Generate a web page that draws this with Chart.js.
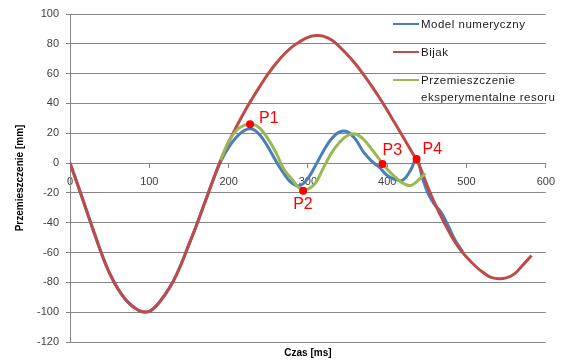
<!DOCTYPE html>
<html>
<head>
<meta charset="utf-8">
<script src="https://cdn.jsdelivr.net/npm/chart.js@4"></script>
<style>
  html, body { margin: 0; padding: 0; background: #fff; }
  #wrap { position: relative; width: 563px; height: 362px; }
  #legend { position: absolute; left: 393px; top: 16px; font: 11.5px "Liberation Sans", Arial, sans-serif; letter-spacing: 0.5px; color: #1a1a1a; }
  .item { position: relative; padding-left: 28px; line-height: 17px; margin-bottom: 11px; width: 145px; }
  .item i { position: absolute; left: 0; top: 7px; width: 26px; height: 2px; }
</style>
</head>
<body>
<div id="wrap">
  <canvas id="chart" width="563" height="362"></canvas>
  <div id="legend"></div>
</div>
<script>
// czas [ms] and przemieszczenie [mm]
const czasBijak = [0, 10, 20, 30, 40, 50, 60, 70, 80, 90, 100, 110, 120, 130, 140, 150, 160, 170, 180, 190,
  200, 210, 220, 230, 240, 250, 260, 270, 280, 290, 300, 310, 320, 330, 340, 350, 360, 370, 380, 390,
  400, 410, 420, 430, 440, 450, 460, 470, 480, 490, 500, 510, 520, 530, 540, 550, 560, 570, 582];
const bijak = [0, -15, -30.5, -46, -61, -74, -84, -91.5, -96.5, -99.5, -99.5, -95, -88, -79.5, -68, -54.5, -41, -26.5, -12, 2,
  14, 24.5, 34.5, 43.5, 52, 60, 67, 73, 78, 81.5, 84.3, 85.5, 85, 82.5, 78, 72.5, 66.5, 59.5, 52, 44,
  35.5, 26.5, 17.5, 8.5, -1, -14.5, -27, -38, -48, -56.5, -63, -68.5, -73, -76.5, -77.5, -77, -74.5, -69, -62];

const czasModel = [0, 10, 20, 30, 40, 50, 60, 70, 80, 90, 100, 110, 120, 130, 140, 150, 160, 170, 180, 190,
  200, 210, 220, 230, 240, 250, 260, 270, 280, 290, 300, 310, 320, 330, 340, 350, 360, 370, 380, 390,
  400, 410, 420, 430, 437, 445, 452, 460, 468, 476, 485, 495];
const model = [0, -15, -30.5, -46, -61, -74, -84, -91.5, -96.5, -99.5, -99.5, -95, -88, -79.5, -68, -54.5, -41, -26.5, -12, 1,
  10.5, 17.5, 22, 22.8, 18.5, 10.5, 1.1, -7.3, -13.5, -15, -10.3, -1.2, 8.5, 16.5, 21, 21, 16, 7.5, 1.5, -2.8,
  -8.3, -11, -11.4, -4.2, 3, -11, -21, -28, -33, -41, -51, -59.5];

const czasResor = [190, 200, 210, 220, 230, 240, 250, 260, 270, 280, 290, 300, 310, 320, 330, 340, 350, 360, 370, 380,
  390, 400, 410, 420, 430, 440, 448];
const resor = [2, 14.3, 22, 25.5, 26.3, 23.1, 16, 6.7, -4.3, -10.8, -17, -17.5, -13, -2.7, 7, 14, 18.5, 19.5, 16, 9.6,
  2.7, -4.2, -9.3, -13.5, -15, -11, -7];

const punktyNazwy = ['P1', 'P2', 'P3', 'P4'];
const punktyCzas = [227, 294, 394, 437];
const punktyWartosc = [26, -18.5, -0.6, 2.8];

const yTicks = [-120, -100, -80, -60, -40, -20, 0, 20, 40, 60, 80, 100];
const xTicks = [0, 100, 200, 300, 400, 500, 600];

// where each P label sits relative to its dot (px)
const labelOffset = { P1: [9, -6], P2: [-10, 14], P3: [0, -13], P4: [6, -9] };

const toXY = (xs, ys) => xs.map((x, i) => ({ x: x, y: ys[i] }));
const font = '"Liberation Sans", Arial, sans-serif';
const grey = '#868686';

const pointLabels = {
  id: 'pointLabels',
  afterDatasetsDraw(chart) {
    const meta = chart.getDatasetMeta(3);
    const ctx = chart.ctx;
    ctx.save();
    ctx.font = '16px ' + font;
    ctx.fillStyle = '#ff0000';
    ctx.textBaseline = 'middle';
    meta.data.forEach((pt, i) => {
      const name = punktyNazwy[i];
      const off = labelOffset[name];
      ctx.fillText(name, pt.x + off[0], pt.y + off[1]);
    });
    ctx.restore();
  }
};

const chart = new Chart(document.getElementById('chart'), {
  type: 'line',
  data: {
    datasets: [
      { label: 'Model numeryczny', data: toXY(czasModel, model), borderColor: '#4a7ebb', borderWidth: 3, order: 3 },
      { label: 'Bijak', data: toXY(czasBijak, bijak), borderColor: '#be4b48', borderWidth: 3, order: 2 },
      { label: 'Przemieszczenie eksperymentalne resoru', data: toXY(czasResor, resor), borderColor: '#98b954', borderWidth: 3, order: 1 },
      { label: 'punkty', data: toXY(punktyCzas, punktyWartosc), showLine: false, pointRadius: 4,
        pointBackgroundColor: '#ff0000', pointBorderWidth: 0, order: 0 }
    ]
  },
  options: {
    responsive: false,
    animation: false,
    layout: { padding: { left: 0, right: 17, top: 14, bottom: 0 } },
    elements: { point: { radius: 0 }, line: { tension: 0.4 } },
    plugins: { legend: { display: false }, tooltip: { enabled: false } },
    scales: {
      x: {
        type: 'linear', min: 0, max: 600,
        position: { y: 0 },
        afterBuildTicks: s => { s.ticks = xTicks.map(v => ({ value: v })); },
        ticks: { color: '#404040', font: { family: font, size: 11 }, padding: 8, maxRotation: 0 },
        grid: { drawOnChartArea: false, drawTicks: true, tickLength: 4, color: grey },
        border: { color: grey }
      },
      x2: {
        type: 'linear', min: 0, max: 600, position: 'bottom',
        ticks: { display: false },
        grid: { display: false },
        border: { display: false },
        title: { display: true, text: 'Czas [ms]', color: '#000', font: { family: font, size: 10, weight: 'bold' }, padding: { top: 0, bottom: 3 } },
        afterFit: s => { s.height = 20; }
      },
      y: {
        min: -120, max: 100,
        afterBuildTicks: s => { s.ticks = yTicks.map(v => ({ value: v })); },
        ticks: { color: '#404040', font: { family: font, size: 11 }, padding: 7 },
        grid: { color: grey, tickLength: 4 },
        border: { color: grey },
        title: { display: true, text: 'Przemieszczenie [mm]', color: '#000', font: { family: font, size: 10, weight: 'bold' }, padding: { top: 14, bottom: 0 } },
        afterFit: s => { s.width = 70; }
      }
    }
  },
  plugins: [pointLabels]
});

// legend inside the plot, top right
const legend = document.getElementById('legend');
chart.data.datasets.slice(0, 3).forEach(ds => {
  const row = document.createElement('div');
  row.className = 'item';
  row.innerHTML = '<i style="background:' + ds.borderColor + '"></i>' + ds.label;
  legend.appendChild(row);
});
</script>
</body>
</html>
